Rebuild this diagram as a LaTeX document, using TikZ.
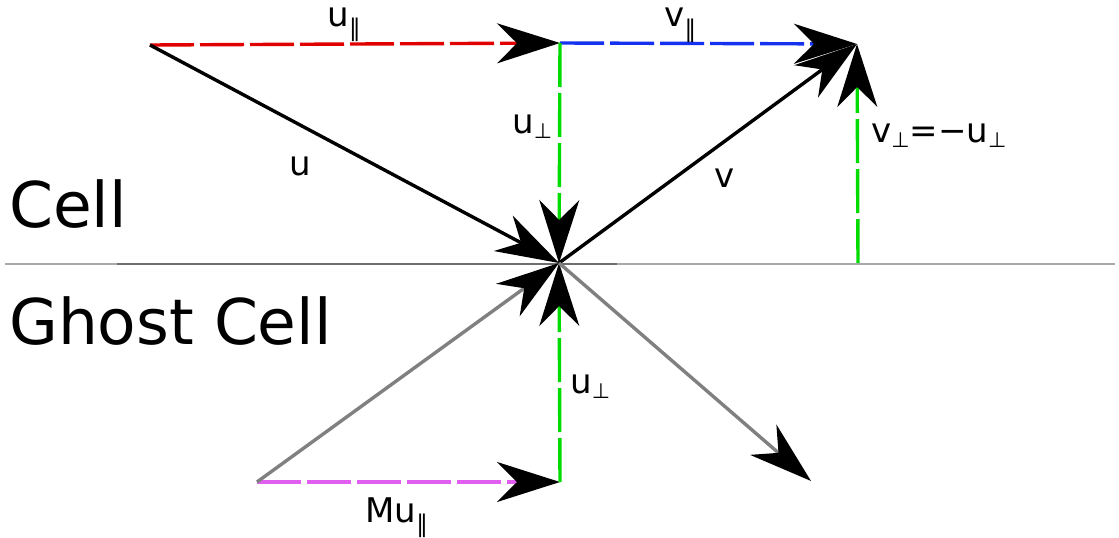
\documentclass[tikz,border=0pt]{standalone}
\usepackage{fontspec}
\setmainfont{DejaVu Sans}
\usetikzlibrary{arrows.meta}
\newcommand\subpar{\raisebox{-10pt}{\fontsize{24}{24}\selectfont ∥}}
\newcommand\subperp{\raisebox{-5pt}{\fontsize{21}{21}\selectfont ⊥}}
\definecolor{cred}{RGB}{225,0,0}
\definecolor{cblue}{RGB}{20,50,240}
\definecolor{cgreen}{RGB}{0,220,0}
\definecolor{cmag}{RGB}{225,95,240}
\definecolor{cgray}{RGB}{128,128,128}
\definecolor{cline}{RGB}{170,170,170}
\definecolor{clinedark}{RGB}{110,110,110}
\begin{document}
\begin{tikzpicture}[x=1pt,y=-1pt,
  tipped/.style={-{Stealth[length=63pt,width=40pt,inset=20pt,color=black]}},
  dsh/.style={line width=3.4pt,dash pattern=on 44pt off 6pt},
  solidln/.style={line width=3.4pt},
  lbl/.style={anchor=base west,inner sep=0pt,font=\fontsize{34}{34}\selectfont},
  big/.style={anchor=base west,inner sep=0pt,font=\fontsize{63}{63}\selectfont}]
\useasboundingbox (0,0) rectangle (1119,538);
% points
\coordinate (S) at (150,45);
\coordinate (P) at (560,43);
\coordinate (Q) at (857,44);
\coordinate (O) at (559,263);
\coordinate (R) at (858,263);
\coordinate (G) at (257,482);
\coordinate (H) at (560,482);
\coordinate (T) at (811,481);
\coordinate (LL) at (5,264);
\coordinate (LR) at (1115,264);
\coordinate (DL) at (117,264);
\coordinate (DR) at (617,264);
% boundary line
\draw[cline,line width=2pt] (LL) -- (LR);
\draw[clinedark,line width=2pt] (DL) -- (DR);
% cell vectors
\draw[dsh,cred,tipped] (S) -- (P);
\draw[dsh,cblue,tipped] (P) -- (Q);
\draw[dsh,cgreen,tipped] (P) -- (O);
\draw[dsh,cgreen,tipped] (R) -- (Q);
\draw[solidln,black,tipped] (S) -- (O);
\draw[solidln,black,tipped] (O) -- (Q);
% ghost vectors
\draw[dsh,cmag,tipped] (G) -- (H);
\draw[dsh,cgreen,tipped] (H) -- (O);
\draw[solidln,cgray,tipped] (G) -- (O);
\draw[solidln,cgray,tipped] (O) -- (T);
% labels
\node[lbl] (lupar) at (327,26) {u\subpar};
\node[lbl] (lvpar) at (664,27) {v\subpar};
\node[lbl] (luperp) at (512,133) {u\subperp};
\node[lbl] (lu) at (289,175) {u};
\node[lbl] (lv) at (714,187) {v};
\node[lbl] (lvperp) at (871,142) {v\subperp=−u\subperp};
\node[lbl] (luperp2) at (570,393) {u\subperp};
\node[lbl] (lmu) at (365,522) {Mu\subpar};
\node[big] (cell) at (9,227) {Cell};
\node[big] (ghost) at (9,344) {Ghost Cell};
\end{tikzpicture}
\end{document}
